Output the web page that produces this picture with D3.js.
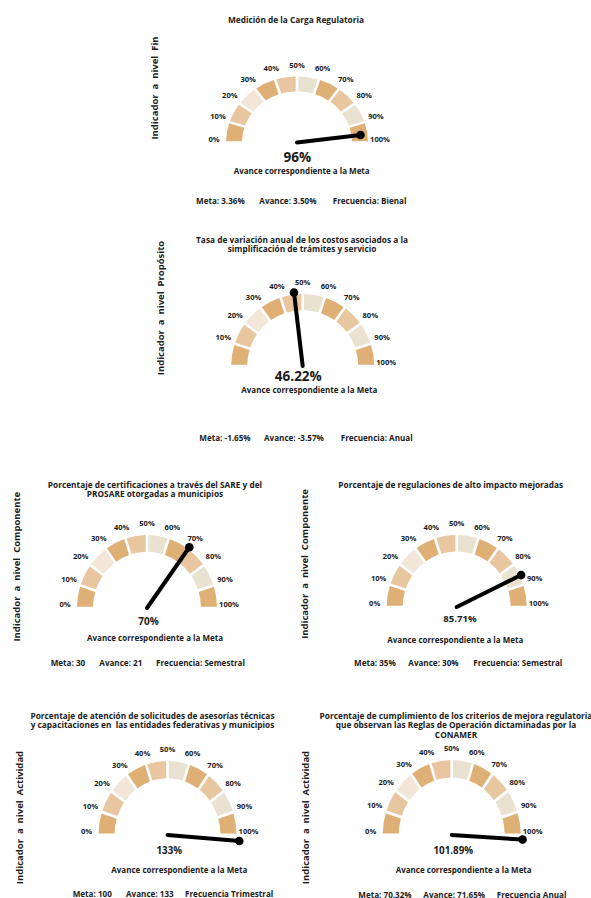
<!DOCTYPE html>
<html>
<head>
<meta charset="utf-8">
<script src="https://cdn.jsdelivr.net/npm/d3@7/dist/d3.min.js"></script>
<style>
  html, body { margin: 0; padding: 0; background: #fff; }
  svg { display: block; }
  text { font-family: "Open Sans", "Noto Sans", sans-serif; font-weight: 700; fill: #1b1b1b; white-space: pre; }
</style>
</head>
<body>
<svg id="chart" width="591" height="898"></svg>
<script>
// ---------------- data ----------------
const titles = [
  ["Medición de la Carga Regulatoria"],
  ["Tasa de variación anual de los costos asociados a la", "simplificación de trámites y servicio"],
  ["Porcentaje de certificaciones a través del SARE y del", "PROSARE otorgadas a municipios"],
  ["Porcentaje de regulaciones de alto impacto mejoradas"],
  ["Porcentaje de atención de solicitudes de asesorías técnicas", "y capacitaciones en  las entidades federativas y municipios"],
  ["Porcentaje de cumplimiento de los criterios de mejora regulatoria", "que observan las Reglas de Operación dictaminadas por la", "CONAMER"]
];
const levels = ["Fin", "Propósito", "Componente", "Componente", "Actividad", "Actividad"];
const values = [96, 46.22, 70, 85.71, 133, 101.89];
const valueLabels = ["96%", "46.22%", "70%", "85.71%", "133%", "101.89%"];
const metas = ["Meta: 3.36%", "Meta: -1.65%", "Meta: 30", "Meta: 35%", "Meta: 100", "Meta: 70.32%"];
const avances = ["Avance: 3.50%", "Avance: -3.57%", "Avance: 21", "Avance: 30%", "Avance: 133", "Avance: 71.65%"];
const frecuencias = ["Frecuencia: Bienal", "Frecuencia: Anual", "Frecuencia: Semestral", "Frecuencia: Semestral", "Frecuencia Trimestral", "Frecuencia Anual"];
const tickValues = [0, 10, 20, 30, 40, 50, 60, 70, 80, 90, 100];
const tickLabels = ["0%", "10%", "20%", "30%", "40%", "50%", "60%", "70%", "80%", "90%", "100%"];
const showZeroTick = [true, false, true, true, true, true];
const bandStarts = [0, 10, 20, 30, 40, 50, 60, 70, 80, 90];
const bandColors = ["#dfb075", "#e8c6a0", "#f1e6d8", "#dfb075", "#e8c6a0", "#e9e2d0", "#dfb075", "#e8c6a0", "#e9e2d0", "#dfb075"];
const caption = "Avance correspondiente a la Meta";
const needleMax = 102.5; // display cap of the needle

// ---------------- layout ----------------
const layout = [
  {cx: 297,   cy: 142.5, rx: 71,   ry: 66, needle: 64,
   titleX: 296, titleY: 19.3, side: [154, 88], valueXY: [297.3, 156.7], valueSize: 13.5, capXY: [301.7, 170],
   metaY: 200, metaX: [196, 259.3, 332.7]},
  {cx: 302.7, cy: 366,   rx: 71.5, ry: 72, needle: 73.5,
   titleX: 302, titleY: 239, side: [160.7, 308], valueXY: [298.3, 375.7], valueSize: 13.5, capXY: [309.3, 389.3],
   metaY: 437.3, metaX: [199.3, 264, 340.7]},
  {cx: 147,   cy: 608,   rx: 70,   ry: 73, needle: 72,
   titleX: 155, titleY: 484, side: [16, 566.7], valueXY: [148.5, 620.7], valueSize: 10, capXY: [155, 637.3],
   metaY: 662.7, metaX: [50.7, 99.3, 156]},
  {cx: 456.7, cy: 607,   rx: 70,   ry: 72, needle: 71.5,
   titleX: 450.8, titleY: 484, side: [304, 564], valueXY: [460, 618.3], valueSize: 9.6, capXY: [455.3, 639],
   metaY: 662.7, metaX: [354, 408.3, 473.3]},
  {cx: 167.5, cy: 835,   rx: 69,   ry: 74, needle: 72,
   titleX: 152.5, titleY: 715, side: [19.3, 817.5], valueXY: [169.3, 850.7], valueSize: 9.8, capXY: [179.3, 869.3],
   metaY: 893.3, metaX: [72.7, 126, 185]},
  {cx: 451.7, cy: 835,   rx: 69,   ry: 75, needle: 71,
   titleX: 456, titleY: 715, side: [305, 817.5], valueXY: [453.3, 850.7], valueSize: 9.8, capXY: [463.7, 869],
   metaY: 894, metaX: [358.3, 423.3, 496.7]}
];

const svg = d3.select("#chart");
const angle = d3.scaleLinear().domain([0, 100]).range([-Math.PI / 2, Math.PI / 2]);
const band = 16;
const lineH = 9.6;

layout.forEach((L, i) => {
  const g = svg.append("g");

  // title
  titles[i].forEach((line, k) => {
    g.append("text")
      .attr("x", L.titleX).attr("y", L.titleY + k * lineH)
      .attr("text-anchor", "middle").attr("dominant-baseline", "central")
      .style("font-size", "8.3px")
      .text(line);
  });

  // side label
  g.append("text")
    .attr("transform", `translate(${L.side[0]},${L.side[1]}) rotate(-90)`)
    .attr("text-anchor", "middle").attr("dominant-baseline", "central")
    .style("font-size", "9.5px")
    .text("Indicador  a  nivel  " + levels[i]);

  // bands (elliptical via vertical scaling)
  const arc = d3.arc()
    .innerRadius(L.rx - band).outerRadius(L.rx)
    .padAngle(2.6 / L.rx).padRadius(L.rx);
  const gauge = g.append("g")
    .attr("transform", `translate(${L.cx},${L.cy}) scale(1,${L.ry / L.rx})`);
  gauge.selectAll("path")
    .data(bandStarts)
    .join("path")
    .attr("d", d => arc({startAngle: angle(d), endAngle: angle(d + 10)}))
    .attr("fill", (d, k) => bandColors[k]);

  // tick labels around the gauge
  const lrx = L.rx + 12, lry = L.ry + 8;
  g.selectAll("text.tick")
    .data(tickValues.map((v, k) => ({v, label: tickLabels[k]})).filter(d => d.v > 0 || showZeroTick[i]))
    .join("text")
    .attr("class", "tick")
    .attr("x", d => L.cx + lrx * Math.sin(angle(d.v)))
    .attr("y", d => L.cy - 4 - lry * Math.cos(angle(d.v)))
    .attr("text-anchor", "middle").attr("dominant-baseline", "central")
    .style("font-size", "7.6px")
    .text(d => d.label);

  // needle
  const a = angle(Math.min(values[i], needleMax));
  const tx = L.cx + L.needle * Math.sin(a);
  const ty = L.cy - L.needle * Math.cos(a) * (L.ry / L.rx);
  g.append("line")
    .attr("x1", L.cx).attr("y1", L.cy)
    .attr("x2", tx).attr("y2", ty)
    .attr("stroke", "#000").attr("stroke-width", 4).attr("stroke-linecap", "round");
  g.append("circle").attr("cx", tx).attr("cy", ty).attr("r", 4.3).attr("fill", "#000");

  // value
  g.append("text")
    .attr("x", L.valueXY[0]).attr("y", L.valueXY[1])
    .attr("text-anchor", "middle").attr("dominant-baseline", "central")
    .style("font-size", L.valueSize + "px")
    .text(valueLabels[i]);

  // caption
  g.append("text")
    .attr("x", L.capXY[0]).attr("y", L.capXY[1])
    .attr("text-anchor", "middle").attr("dominant-baseline", "central")
    .style("font-size", "8px")
    .text(caption);

  // meta line
  [metas[i], avances[i], frecuencias[i]].forEach((t, k) => {
    g.append("text")
      .attr("x", L.metaX[k]).attr("y", L.metaY)
      .attr("dominant-baseline", "central")
      .style("font-size", "8.1px")
      .text(t);
  });
});
</script>
</body>
</html>
